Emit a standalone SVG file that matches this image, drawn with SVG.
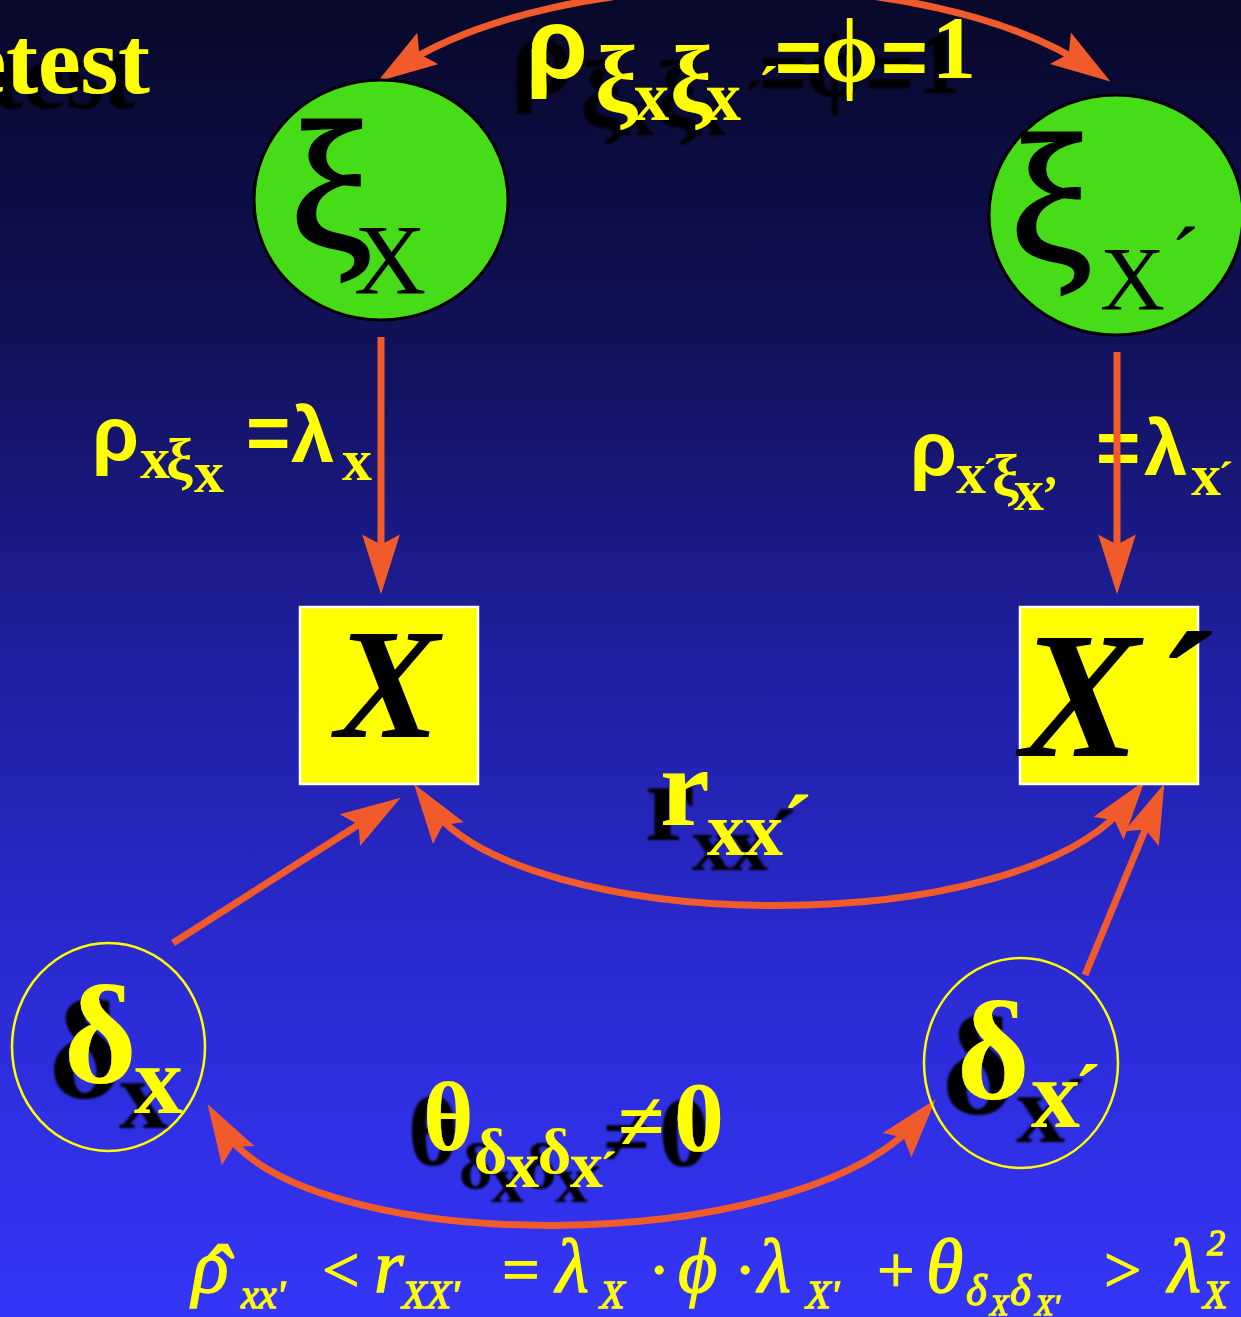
<svg xmlns="http://www.w3.org/2000/svg" width="1241" height="1317" viewBox="0 0 1241 1317">
<defs>
<linearGradient id="bg" x1="0" y1="0" x2="0" y2="1">
<stop offset="0" stop-color="#08082a"/>
<stop offset="0.25" stop-color="#111158"/>
<stop offset="0.5" stop-color="#1f1fa0"/>
<stop offset="0.75" stop-color="#2b2bd6"/>
<stop offset="1" stop-color="#3535f8"/>
</linearGradient>
<filter id="sh" x="-30%" y="-30%" width="160%" height="170%">
<feGaussianBlur in="SourceAlpha" stdDeviation="1.2"/>
<feOffset dx="-15" dy="15" result="o"/>
<feMerge><feMergeNode in="o"/><feMergeNode in="SourceGraphic"/></feMerge>
</filter>
<marker id="ah" markerUnits="userSpaceOnUse" markerWidth="60" markerHeight="40" viewBox="0 0 54 34" refX="32" refY="17" orient="auto-start-reverse">
<path d="M0,0 L54,17 L0,34 L9,17 z" fill="#f15a2b"/>
</marker>
<style>
.y{fill:#ffff00}
.k{fill:#000}
.sb{font-family:'Liberation Serif',serif;font-weight:bold}
.sr{font-family:'Liberation Serif','DejaVu Serif',serif}
.gb{font-family:'Liberation Serif','DejaVu Serif',serif;font-weight:bold}
.ss{font-family:'Liberation Sans','DejaVu Sans',sans-serif;font-weight:bold}
.it{font-family:'Liberation Serif','DejaVu Serif',serif;font-style:italic;stroke:#ffff00;stroke-width:1.3}
.con{fill:none;stroke:#f15a2b;stroke-width:7}
.grn{fill:#46dc18;stroke:#000;stroke-width:3}
.box{fill:#ffff00;stroke:#fff;stroke-width:2.5}
.dc{fill:none;stroke:#ffff00;stroke-width:2.5}
.xi{stroke:#000;stroke-width:3}
</style>
</defs>
<rect x="0" y="0" width="1241" height="1317" fill="url(#bg)"/>

<g id="title">
<text class="y sb" x="150" y="93" font-size="96" text-anchor="end" filter="url(#sh)">etest</text>
</g>

<g id="labels">
<text id="lbl-phi" class="y" filter="url(#sh)"><tspan class="ss" x="526" y="78" font-size="100">ρ</tspan><tspan class="gb" x="595" y="112" font-size="96">ξ</tspan><tspan class="sb" x="634" y="120" font-size="70">x</tspan><tspan class="gb" x="670" y="112" font-size="96">ξ</tspan><tspan class="sb" x="706" y="120" font-size="70">x</tspan><tspan class="sb" x="758" y="107" font-size="60">´</tspan><tspan class="ss" x="775" y="84" font-size="80">=</tspan><tspan class="gb" x="821" y="82" font-size="92">ϕ</tspan><tspan class="ss" x="881" y="84" font-size="80">=</tspan><tspan class="sb" x="932" y="77" font-size="88">1</tspan></text>

<text id="lbl-lx" class="y"><tspan class="ss" x="92" y="460" font-size="76">ρ</tspan><tspan class="sb" x="140" y="478" font-size="60">x</tspan><tspan class="gb" x="166" y="480" font-size="60">ξ</tspan><tspan class="sb" x="194" y="492" font-size="60">x</tspan><tspan class="ss" x="246" y="459" font-size="76">=</tspan><tspan class="ss" x="291" y="462" font-size="78">λ</tspan><tspan class="sb" x="342" y="480" font-size="60">x</tspan></text>

<text id="lbl-lxp" class="y"><tspan class="ss" x="910" y="475" font-size="76">ρ</tspan><tspan class="sb" x="956" y="493" font-size="60">x</tspan><tspan class="sb" x="983" y="486" font-size="40">´</tspan><tspan class="gb" x="992" y="496" font-size="60">ξ</tspan><tspan class="sb" x="1014" y="510" font-size="60">x</tspan><tspan class="sb" x="1042" y="510" font-size="50">’</tspan><tspan class="ss" x="1096" y="474" font-size="76">=</tspan><tspan class="ss" x="1144" y="475" font-size="78">λ</tspan><tspan class="sb" x="1191" y="495" font-size="60">x</tspan><tspan class="sb" x="1218" y="492" font-size="45">´</tspan></text>

<text id="lbl-r" class="y sb" filter="url(#sh)"><tspan x="660" y="825" font-size="112">r</tspan><tspan x="707" y="855" font-size="76">xx</tspan><tspan x="782" y="858" font-size="90">´</tspan></text>

<text id="lbl-theta" class="y" filter="url(#sh)"><tspan class="gb" x="423" y="1150" font-size="97">θ</tspan><tspan class="gb" x="474" y="1173" font-size="64">δ</tspan><tspan class="sb" x="506" y="1187" font-size="66">x</tspan><tspan class="gb" x="538" y="1173" font-size="64">δ</tspan><tspan class="sb" x="570" y="1187" font-size="66">x</tspan><tspan class="sb" x="600" y="1187" font-size="50">´</tspan><tspan class="gb" x="618" y="1150" font-size="85">≠</tspan><tspan class="sb" x="674" y="1150" font-size="100">0</tspan></text>

<text id="formula" class="y it" font-size="76"><tspan x="192" y="1292">ρ</tspan><tspan x="200" y="1308" font-size="90">ˆ</tspan><tspan x="241" y="1308" font-size="40">xx'</tspan><tspan x="318" y="1292" font-size="66">&lt;</tspan><tspan x="374" y="1292">r</tspan><tspan x="402" y="1308" font-size="40">XX'</tspan><tspan x="498" y="1292" font-size="66">=</tspan><tspan x="556" y="1292">λ</tspan><tspan x="600" y="1308" font-size="40">X</tspan><tspan x="650" y="1292" font-size="66">·</tspan><tspan x="678" y="1292">ϕ</tspan><tspan x="736" y="1292" font-size="66">·</tspan><tspan x="758" y="1292">λ</tspan><tspan x="806" y="1308" font-size="40">X'</tspan><tspan x="873" y="1292" font-size="66">+</tspan><tspan x="926" y="1292">θ</tspan><tspan x="966" y="1305" font-size="44">δ</tspan><tspan x="990" y="1315" font-size="30">X</tspan><tspan x="1010" y="1305" font-size="44">δ</tspan><tspan x="1035" y="1315" font-size="30">X'</tspan><tspan x="1100" y="1292" font-size="66">&gt;</tspan><tspan x="1168" y="1292">λ</tspan><tspan x="1207" y="1255" font-size="36">2</tspan><tspan x="1203" y="1308" font-size="40">X</tspan></text>
</g>

<g id="connectors">
<path class="con" d="M398,68 C560,-39 930,-39 1090,68" marker-start="url(#ah)" marker-end="url(#ah)"/>
<path class="con" d="M381,337 L381,570" marker-end="url(#ah)"/>
<path class="con" d="M1117,352 L1117,570" marker-end="url(#ah)"/>
<path class="con" d="M173,943 L380,811" marker-end="url(#ah)"/>
<path class="con" d="M1085,975 L1155,806" marker-end="url(#ah)"/>
<path class="con" d="M428,804 C520,935 1020,945 1130,800" marker-start="url(#ah)" marker-end="url(#ah)"/>
<path class="con" d="M220,1125 C300,1260 800,1260 920,1118" marker-start="url(#ah)" marker-end="url(#ah)"/>
</g>

<g id="node-xi-x">
<ellipse class="grn" cx="381" cy="200" rx="127" ry="120"/>
<text class="k"><tspan class="sr xi" x="290" y="249" font-size="185">ξ</tspan><tspan class="sr" x="354" y="293" font-size="100">X</tspan></text>
</g>
<g id="node-xi-xp">
<ellipse class="grn" cx="1116" cy="215" rx="127" ry="120"/>
<text class="k"><tspan class="sr xi" x="1010" y="262" font-size="185">ξ</tspan><tspan class="sr" x="1100" y="310" font-size="90">X</tspan><tspan class="sr" x="1170" y="290" font-size="90">´</tspan></text>
</g>
<g id="node-X">
<rect class="box" x="300" y="607" width="178" height="177"/>
<text class="k sb" x="335" y="737" font-size="157" font-style="italic">X</text>
</g>
<g id="node-Xp">
<rect class="box" x="1020" y="607" width="178" height="177"/>
<text class="k sb" font-size="180" font-style="italic"><tspan x="1020" y="756">X</tspan><tspan x="1147" y="756">´</tspan></text>
</g>
<g id="node-delta-x">
<ellipse class="dc" cx="108.5" cy="1047" rx="96.5" ry="104"/>
<text class="y" filter="url(#sh)"><tspan class="gb" x="64" y="1082" font-size="140">δ</tspan><tspan class="sb" x="134" y="1113" font-size="98">x</tspan></text>
</g>
<g id="node-delta-xp">
<ellipse class="dc" cx="1021" cy="1063" rx="97" ry="105"/>
<text class="y" filter="url(#sh)"><tspan class="gb" x="957" y="1098" font-size="140">δ</tspan><tspan class="sb" x="1031" y="1127" font-size="98">x</tspan><tspan class="sb" x="1074" y="1120" font-size="80">´</tspan></text>
</g>
</svg>
